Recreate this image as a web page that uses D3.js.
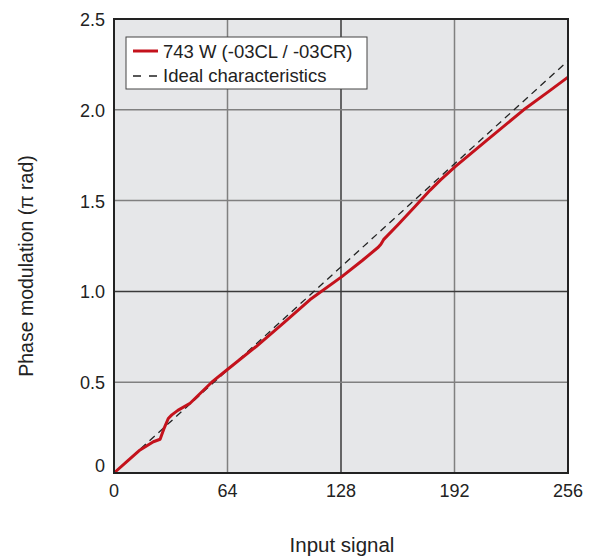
<!DOCTYPE html>
<html>
<head>
<meta charset="utf-8">
<script src="https://cdn.jsdelivr.net/npm/d3@7"></script>
<style>
  body { margin: 0; background: #fff; }
  svg text { font-family: "Liberation Sans", Arial, sans-serif; fill: #222; }
</style>
</head>
<body>
<div class="chart"></div>
<script>
// measured curve (input signal, phase in pi rad)
var measuredX = [0, 8, 14.7, 22.2, 26, 28, 30.6, 32.6, 36, 42.9, 55.1, 63.6, 80, 96, 110.6, 128.3, 140, 149, 150.5, 152, 160, 170, 178.3, 184, 192.4, 210, 231, 245, 256];
var measuredY = [0, 0.07, 0.127, 0.172, 0.186, 0.24, 0.30, 0.32, 0.345, 0.384, 0.5, 0.567, 0.695, 0.83, 0.955, 1.08, 1.17, 1.243, 1.26, 1.285, 1.366, 1.47, 1.558, 1.613, 1.687, 1.83, 2.0, 2.1, 2.18];
var idealX = [0, 256];
var idealY = [0, 2.27];
var xTicks = [0, 64, 128, 192, 256];
var yTicks = [0, 0.5, 1.0, 1.5, 2.0, 2.5];
var legendLabels = ['743 W (-03CL / -03CR)', 'Ideal characteristics'];

var margin = {left: 114, top: 19, right: 603 - 568, bottom: 560 - 473};
var width = 603, height = 560;
var w = width - margin.left - margin.right;
var h = height - margin.top - margin.bottom;

var svg = d3.select('.chart')
    .append('svg')
    .attr('width', width)
    .attr('height', height);

var x = d3.scaleLinear().domain([0, 256]).range([margin.left, margin.left + w]);
var y = d3.scaleLinear().domain([0, 2.5]).range([margin.top + h, margin.top]);

svg.append('rect')
    .attr('x', x(0)).attr('y', y(2.5))
    .attr('width', w).attr('height', h)
    .attr('fill', '#e6e7e9');

// grid
svg.selectAll('.vgrid').data(xTicks.slice(1, -1)).enter().append('line')
    .attr('x1', function(d) { return x(d); })
    .attr('x2', function(d) { return x(d); })
    .attr('y1', y(0)).attr('y2', y(2.5))
    .attr('stroke', function(d) { return d === 128 ? '#3a3a3a' : '#808080'; })
    .attr('stroke-width', 1.5);
svg.selectAll('.hgrid').data(yTicks.slice(1, -1)).enter().append('line')
    .attr('y1', function(d) { return y(d); })
    .attr('y2', function(d) { return y(d); })
    .attr('x1', x(0)).attr('x2', x(256))
    .attr('stroke', function(d) { return d === 1.0 ? '#3a3a3a' : '#808080'; })
    .attr('stroke-width', 1.5);

// tick labels
var yFmt = function(d) { return d === 0 ? '0' : d3.format('.1f')(d); };
svg.selectAll('.ylab').data(yTicks).enter().append('text')
    .attr('x', x(0) - 9)
    .attr('y', function(d) { return d === 0 ? y(d) - 1 : y(d) + 7; })
    .attr('text-anchor', 'end')
    .attr('font-size', 18)
    .text(yFmt);
svg.selectAll('.xlab').data(xTicks).enter().append('text')
    .attr('x', function(d) { return x(d); })
    .attr('y', y(0) + 24)
    .attr('text-anchor', 'middle')
    .attr('font-size', 18)
    .text(function(d) { return d; });

// axis titles
svg.append('text')
    .attr('transform', 'translate(33,266) rotate(-90)')
    .attr('text-anchor', 'middle')
    .attr('font-size', 19.5)
    .text('Phase modulation (\u03c0 rad)');
svg.append('text')
    .attr('x', 342).attr('y', 552)
    .attr('text-anchor', 'middle')
    .attr('font-size', 20.5)
    .text('Input signal');

var line = d3.line()
    .x(function(d) { return x(d[0]); })
    .y(function(d) { return y(d[1]); });

svg.append('clipPath').attr('id', 'clip')
    .append('rect').attr('x', x(0)).attr('y', y(2.5)).attr('width', w).attr('height', h);

svg.append('path')
    .datum(d3.zip(idealX, idealY))
    .attr('d', line)
    .attr('fill', 'none')
    .attr('stroke', '#222')
    .attr('stroke-width', 1.3)
    .attr('stroke-dasharray', '7,5')
    .attr('clip-path', 'url(#clip)');

svg.append('path')
    .datum(d3.zip(measuredX, measuredY))
    .attr('d', line)
    .attr('fill', 'none')
    .attr('stroke', '#c4121c')
    .attr('stroke-width', 3)
    .attr('stroke-linejoin', 'round');

// frame
svg.append('rect')
    .attr('x', x(0)).attr('y', y(2.5))
    .attr('width', w).attr('height', h)
    .attr('fill', 'none')
    .attr('stroke', '#222')
    .attr('stroke-width', 2);

// legend
var lg = svg.append('g');
lg.append('rect')
    .attr('x', 126).attr('y', 37)
    .attr('width', 241).attr('height', 52)
    .attr('fill', '#fff')
    .attr('stroke', '#444')
    .attr('stroke-width', 1);
lg.append('line')
    .attr('x1', 133).attr('x2', 158).attr('y1', 51).attr('y2', 51)
    .attr('stroke', '#c4121c').attr('stroke-width', 3);
lg.append('line')
    .attr('x1', 133).attr('x2', 157).attr('y1', 76).attr('y2', 76)
    .attr('stroke', '#222').attr('stroke-width', 1.3)
    .attr('stroke-dasharray', '8,8');
lg.selectAll('.ltxt').data(legendLabels).enter().append('text')
    .attr('x', 163)
    .attr('y', function(d, i) { return 57.5 + i * 24.5; })
    .attr('font-size', 18.5)
    .text(function(d) { return d; });
</script>
</body>
</html>
